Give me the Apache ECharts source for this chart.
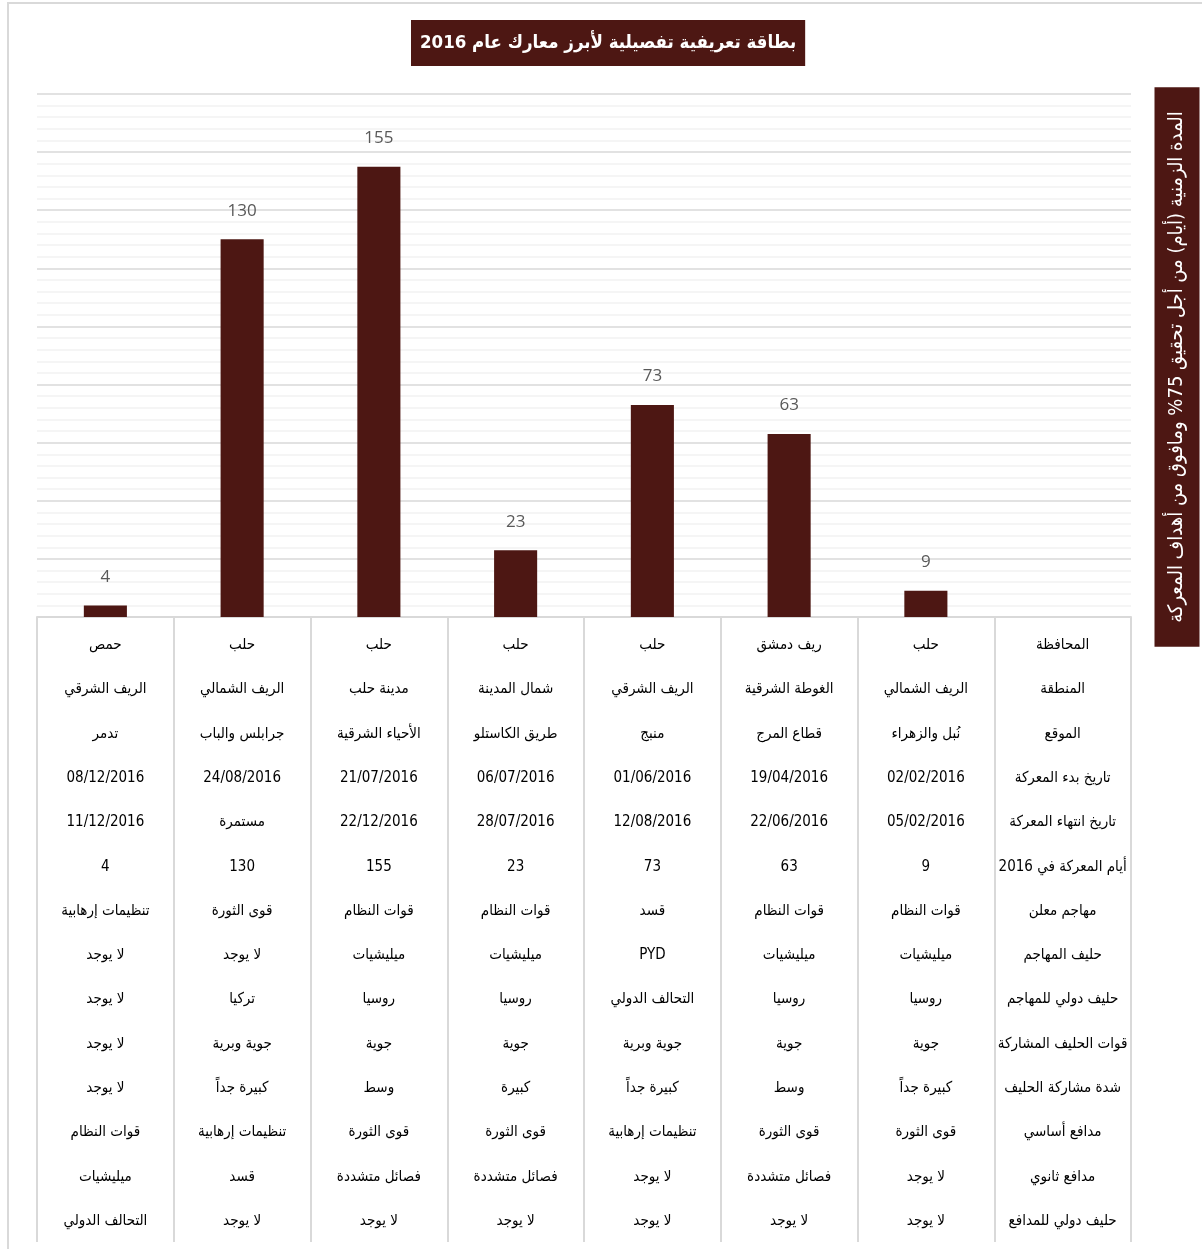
<!DOCTYPE html>
<html>
<head>
<meta charset="utf-8">
<script src="https://cdn.jsdelivr.net/npm/echarts@6/dist/echarts.min.js"></script>
<style>
html,body{margin:0;padding:0;background:#fff;}
#frame{position:absolute;left:7px;top:2px;width:1200px;height:1260px;border:2px solid #d9d9d9;box-sizing:border-box;}
#chart{position:absolute;left:0;top:0;width:1202px;height:1249px;}
</style>
</head>
<body>
<div id="frame"></div>
<div id="chart" dir="rtl"></div>
<script>
// Columns are listed right-to-left (first battle = right-most column after the header column)
const titleText = 'بطاقة تعريفية تفصيلية لأبرز معارك عام 2016';
const axisTitle = 'المدة الزمنية (أيام) من أجل تحقيق 75% ومافوق من أهداف المعركة';
const rowHeaders = ['المحافظة','المنطقة','الموقع','تاريخ بدء المعركة','تاريخ انتهاء المعركة','أيام المعركة في 2016','مهاجم معلن','حليف المهاجم','حليف دولي للمهاجم','قوات الحليف المشاركة','شدة مشاركة الحليف','مدافع أساسي','مدافع ثانوي','حليف دولي للمدافع'];
const governorate = ['حلب','ريف دمشق','حلب','حلب','حلب','حلب','حمص'];
const area = ['الريف الشمالي','الغوطة الشرقية','الريف الشرقي','شمال المدينة','مدينة حلب','الريف الشمالي','الريف الشرقي'];
const battleSite = ['نُبل والزهراء','قطاع المرج','منبج','طريق الكاستلو','الأحياء الشرقية','جرابلس والباب','تدمر'];
const startDate = ['02/02/2016','19/04/2016','01/06/2016','06/07/2016','21/07/2016','24/08/2016','08/12/2016'];
const endDate = ['05/02/2016','22/06/2016','12/08/2016','28/07/2016','22/12/2016','مستمرة','11/12/2016'];
const days = [9, 63, 73, 23, 155, 130, 4];
const attacker = ['قوات النظام','قوات النظام','قسد','قوات النظام','قوات النظام','قوى الثورة','تنظيمات إرهابية'];
const attackerAlly = ['ميليشيات','ميليشيات','PYD','ميليشيات','ميليشيات','لا يوجد','لا يوجد'];
const attackerIntlAlly = ['روسيا','روسيا','التحالف الدولي','روسيا','روسيا','تركيا','لا يوجد'];
const allyForces = ['جوية','جوية','جوية وبرية','جوية','جوية','جوية وبرية','لا يوجد'];
const allyIntensity = ['كبيرة جداً','وسط','كبيرة جداً','كبيرة','وسط','كبيرة جداً','لا يوجد'];
const defenderMain = ['قوى الثورة','قوى الثورة','تنظيمات إرهابية','قوى الثورة','قوى الثورة','تنظيمات إرهابية','قوات النظام'];
const defenderSecondary = ['لا يوجد','فصائل متشددة','لا يوجد','فصائل متشددة','فصائل متشددة','قسد','ميليشيات'];
const defenderIntlAlly = ['لا يوجد','لا يوجد','لا يوجد','لا يوجد','لا يوجد','لا يوجد','التحالف الدولي'];
const yMin = 0, yMax = 180, yInterval = 20;

const tableRows = [governorate, area, battleSite, startDate, endDate, days, attacker, attackerAlly, attackerIntlAlly, allyForces, allyIntensity, defenderMain, defenderSecondary, defenderIntlAlly];
const categories = ['header'].concat(battleSite);
const barData = ['-'].concat(days);

const darkRed = '#4d1713';
const chart = echarts.init(document.getElementById('chart'), null, {renderer: 'canvas'});
chart.setOption({
  animation: false,
  title: {
    text: titleText,
    left: 411, top: 20,
    backgroundColor: darkRed,
    padding: [14, 9, 13, 9],
    textStyle: {color: '#fff', fontSize: 18.5, fontWeight: 'bold', fontFamily: '"DejaVu Sans Condensed", "DejaVu Sans"'}
  },
  grid: {left: 37, right: 71, top: 94, bottom: 632},
  xAxis: {
    type: 'category',
    inverse: true,
    data: categories,
    axisLine: {show: true, lineStyle: {color: '#d9d9d9', width: 2}},
    axisTick: {show: true, length: 625, lineStyle: {color: '#d9d9d9', width: 2}},
    axisLabel: {
      interval: 0,
      margin: 6,
      color: '#000',
      fontSize: 15,
      lineHeight: 44.3,
      fontFamily: '"DejaVu Sans Condensed", "DejaVu Sans"',
      formatter: function (v, idx) {
        if (idx === 0) return rowHeaders.join('\n');
        return tableRows.map(r => String(r[idx - 1])).join('\n');
      }
    }
  },
  yAxis: {
    type: 'value',
    min: yMin, max: yMax, interval: yInterval,
    axisLine: {show: false}, axisTick: {show: false}, axisLabel: {show: false},
    splitLine: {show: true, lineStyle: {color: '#d9d9d9', width: 1.5}},
    minorTick: {show: false, splitNumber: 5},
    minorSplitLine: {show: true, lineStyle: {color: '#f2f2f2', width: 1.5}}
  },
  graphic: [{
    type: 'text',
    x: 1177, y: 367,
    rotation: Math.PI / 2,
    style: {
      text: axisTitle,
      fill: '#fff',
      font: '20px "DejaVu Sans Condensed", "DejaVu Sans"',
      align: 'center',
      verticalAlign: 'middle',
      backgroundColor: darkRed,
      padding: [13, 24, 12, 24]
    }
  }],
  series: [{
    type: 'bar',
    data: barData,
    barWidth: '31.5%',
    itemStyle: {color: darkRed},
    label: {show: true, position: 'top', distance: 20, color: '#595959', fontSize: 17, fontFamily: 'Open Sans'}
  }]
});
</script>
</body>
</html>
